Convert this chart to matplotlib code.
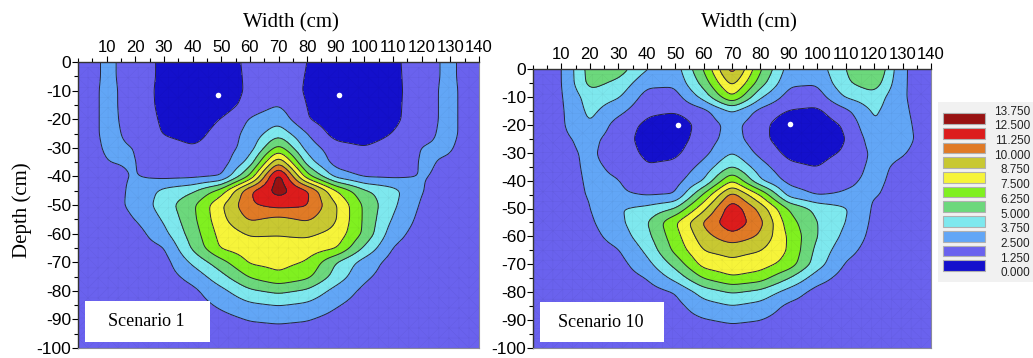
import numpy as np
import matplotlib
matplotlib.use("Agg")
import matplotlib.pyplot as plt
import matplotlib.tri as mtri
from matplotlib.patches import Rectangle
from matplotlib.ticker import FixedLocator, MultipleLocator

plt.rcParams['axes.unicode_minus'] = False

WIDTH_NODES = [0, 10, 20, 30, 40, 50, 60, 70, 80, 90, 100, 110, 120, 130, 140]
DEPTH_NODES = [0, -5, -10, -15, -20, -25, -30, -35, -40, -45, -50,
               -55, -60, -65, -70, -75, -80, -85, -90, -95, -100]

LEVELS = [0.0, 1.25, 2.5, 3.75, 5.0, 6.25, 7.5, 8.75, 10.0, 11.25, 12.5, 13.75]
LEVEL_COLORS = ['#1410cc', '#6a62ee', '#62a6f6', '#7ee8ee', '#6cd87c', '#80f020',
                '#f6f43a', '#c8c832', '#e07a26', '#dc1c1c', '#981212']
LEGEND_LABELS = ['13.750', '12.500', '11.250', '10.000', '8.750', '7.500',
                 '6.250', '5.000', '3.750', '2.500', '1.250', '0.000']

XTICKS = [10, 20, 30, 40, 50, 60, 70, 80, 90, 100, 110, 120, 130, 140]
YTICKS = [0, -10, -20, -30, -40, -50, -60, -70, -80, -90, -100]

# rows = depth nodes, columns = width nodes
SCENARIO_1 = [
    [1.8, 2.7, 2.1, 0.9, 0.5, 0.4, 1.65, 2.55, 1.2, 0.5, 0.5, 0.9, 2.15, 2.7, 1.8],
    [1.8, 2.7, 2.1, 0.9, 0.4, 0.3, 1.6, 2.1, 1.15, 0.4, 0.4, 0.85, 2.15, 2.7, 1.8],
    [1.8, 2.75, 2.1, 0.8, 0.3, 0.15, 1.6, 2.0, 1.1, 0.15, 0.3, 0.8, 2.15, 2.75, 1.8],
    [1.8, 2.75, 2.1, 0.85, 0.4, 0.5, 1.8, 2.5, 1.2, 0.3, 0.4, 0.85, 2.15, 2.75, 1.8],
    [1.8, 2.75, 2.15, 1.0, 0.5, 1.3, 2.6, 3.3, 1.3, 0.4, 0.4, 0.9, 2.15, 2.75, 1.8],
    [1.8, 2.75, 2.25, 1.15, 0.8, 1.7, 2.9, 4.6, 2.5, 0.7, 0.5, 1.3, 2.25, 2.75, 1.8],
    [1.8, 2.65, 2.5, 1.8, 1.35, 1.75, 3.1, 6.8, 3.2, 1.75, 1.35, 1.85, 2.55, 2.6, 1.8],
    [1.8, 2.5, 2.55, 1.9, 1.55, 1.8, 4.2, 10.0, 4.4, 1.9, 1.55, 1.9, 2.6, 2.4, 1.8],
    [1.8, 2.3, 2.55, 2.15, 2.2, 2.4, 6.4, 13.5, 6.7, 3.3, 2.3, 2.25, 2.55, 2.35, 1.8],
    [1.8, 2.1, 2.7, 4.1, 4.8, 6.8, 11.2, 13.1, 11.6, 7.6, 5.2, 4.2, 2.5, 2.1, 1.8],
    [1.8, 2.0, 2.8, 4.4, 6.0, 8.6, 11.1, 11.7, 11.4, 8.9, 6.0, 4.0, 2.3, 2.0, 1.8],
    [1.8, 1.9, 2.5, 3.9, 5.9, 8.4, 10.2, 9.6, 10.2, 8.9, 6.0, 3.6, 2.1, 1.9, 1.8],
    [1.8, 1.85, 1.95, 3.4, 5.6, 8.0, 8.9, 8.8, 9.0, 8.4, 6.0, 3.0, 1.9, 1.85, 1.8],
    [1.8, 1.85, 1.9, 2.4, 5.2, 7.7, 8.2, 8.4, 8.2, 7.7, 4.8, 2.4, 1.9, 1.85, 1.8],
    [1.8, 1.85, 1.9, 2.0, 4.0, 5.8, 7.7, 7.9, 7.4, 5.0, 3.2, 2.0, 1.9, 1.85, 1.8],
    [1.8, 1.85, 1.9, 1.95, 2.9, 4.6, 6.4, 7.3, 6.6, 4.5, 2.7, 1.95, 1.9, 1.85, 1.8],
    [1.8, 1.85, 1.9, 1.9, 2.2, 3.4, 4.8, 5.3, 4.8, 3.3, 2.2, 1.9, 1.9, 1.85, 1.8],
    [1.8, 1.85, 1.9, 1.9, 1.95, 2.7, 3.5, 3.8, 3.5, 2.6, 1.95, 1.9, 1.9, 1.85, 1.8],
    [1.8, 1.85, 1.9, 1.9, 1.9, 2.1, 2.55, 2.65, 2.55, 2.1, 1.9, 1.9, 1.9, 1.85, 1.8],
    [1.8, 1.85, 1.9, 1.9, 1.9, 1.95, 2.1, 2.2, 2.1, 1.95, 1.9, 1.9, 1.9, 1.85, 1.8],
    [1.8, 1.85, 1.9, 1.9, 1.9, 1.9, 1.95, 2.0, 1.95, 1.9, 1.9, 1.9, 1.9, 1.85, 1.8],
]

SCENARIO_10 = [
    [1.85, 2.35, 5.6, 5.7, 3.8, 3.1, 6.3, 10.8, 6.4, 3.2, 3.1, 5.0, 6.6, 2.6, 1.85],
    [1.85, 2.35, 5.5, 4.7, 2.8, 2.7, 5.5, 9.3, 5.6, 2.7, 2.6, 4.8, 5.8, 2.6, 1.85],
    [1.85, 2.35, 4.4, 3.9, 2.0, 2.0, 4.2, 7.6, 3.9, 2.0, 1.9, 3.9, 4.5, 2.6, 1.85],
    [1.85, 2.3, 4.1, 2.9, 1.5, 1.4, 2.1, 3.9, 2.1, 1.2, 1.0, 2.2, 4.0, 2.7, 1.85],
    [1.85, 2.3, 3.8, 1.9, 1.0, 0.4, 1.8, 2.9, 1.7, 0.3, 0.6, 1.4, 3.8, 2.8, 1.9],
    [1.85, 2.25, 2.9, 1.8, 0.8, 0.7, 1.8, 3.1, 1.6, 0.5, 0.5, 1.2, 3.2, 2.9, 1.9],
    [1.85, 2.2, 2.7, 1.9, 1.0, 1.0, 2.1, 3.8, 2.1, 0.9, 0.8, 1.4, 2.8, 2.6, 1.9],
    [1.85, 2.1, 2.7, 2.3, 1.3, 1.5, 2.9, 5.1, 3.0, 1.5, 1.2, 2.0, 2.75, 2.3, 1.9],
    [1.85, 2.05, 2.65, 2.55, 1.9, 2.0, 3.7, 7.6, 3.8, 2.1, 1.85, 2.35, 2.7, 2.2, 1.9],
    [1.85, 2.0, 2.6, 2.65, 2.35, 2.45, 6.4, 10.6, 7.4, 3.2, 2.35, 2.6, 2.6, 2.1, 1.9],
    [1.85, 1.95, 2.45, 3.7, 4.1, 5.0, 8.4, 12.2, 9.6, 6.1, 4.6, 3.9, 2.3, 2.0, 1.9],
    [1.85, 1.9, 2.3, 3.4, 4.9, 7.4, 10.2, 12.3, 10.4, 6.8, 5.0, 3.75, 2.2, 1.95, 1.9],
    [1.85, 1.9, 2.1, 3.0, 4.6, 7.0, 9.5, 10.9, 9.8, 7.3, 5.0, 3.4, 2.1, 1.95, 1.9],
    [1.85, 1.9, 1.95, 2.4, 4.0, 6.6, 8.8, 9.1, 8.8, 7.4, 4.6, 2.9, 1.95, 1.9, 1.9],
    [1.85, 1.9, 1.9, 2.05, 3.3, 5.4, 8.0, 8.5, 8.1, 7.0, 4.3, 2.35, 1.9, 1.9, 1.9],
    [1.85, 1.9, 1.9, 1.9, 2.5, 4.1, 6.3, 7.3, 6.8, 5.0, 3.0, 1.95, 1.9, 1.9, 1.9],
    [1.85, 1.9, 1.9, 1.9, 1.95, 2.5, 4.3, 5.1, 4.6, 3.2, 2.0, 1.9, 1.9, 1.9, 1.9],
    [1.85, 1.9, 1.9, 1.9, 1.9, 2.1, 3.2, 3.7, 3.3, 2.2, 1.9, 1.9, 1.9, 1.9, 1.9],
    [1.85, 1.9, 1.9, 1.9, 1.9, 1.95, 2.4, 2.65, 2.5, 1.95, 1.9, 1.9, 1.9, 1.9, 1.9],
    [1.85, 1.9, 1.9, 1.9, 1.9, 1.9, 2.0, 2.1, 2.0, 1.9, 1.9, 1.9, 1.9, 1.9, 1.9],
    [1.85, 1.9, 1.9, 1.9, 1.9, 1.9, 1.9, 1.9, 1.9, 1.9, 1.9, 1.9, 1.9, 1.9, 1.9],
]

# emitter positions (cm)
EMITTER_X_1 = [49, 91]
EMITTER_Y_1 = [-11.4, -11.5]
EMITTER_X_10 = [51, 90.4]
EMITTER_Y_10 = [-19.9, -19.6]

W, H = 1033, 358
SERIF = 'Liberation Serif'
SANS = 'Liberation Sans'


def smooth(a, sigma, axis):
    r = int(3 * sigma)
    k = np.exp(-0.5 * (np.arange(-r, r + 1) / sigma) ** 2)
    k /= k.sum()
    pad = [(0, 0), (0, 0)]
    pad[axis] = (r, r)
    ap = np.pad(a, pad, mode='edge')
    return np.apply_along_axis(lambda v: np.convolve(v, k, mode='valid'), axis, ap)


def fine_field(field):
    # bilinear resampling of the read-off grid onto a 0.5 cm grid, lightly smoothed
    z = np.array(field, dtype=float)[::-1]          # depth ascending
    depth_asc = np.array(DEPTH_NODES[::-1], dtype=float)
    xf = np.linspace(0, 140, 281)
    yf = np.linspace(-100, 0, 201)
    rows = np.array([np.interp(xf, WIDTH_NODES, r) for r in z])
    zf = np.array([np.interp(yf, depth_asc, c) for c in rows.T]).T
    zf = smooth(smooth(zf, 3.0, 1), 2.0, 0)
    return xf, yf, zf


def draw_panel(ax, field, ex, ey, label):
    xf, yf, zf = fine_field(field)
    ax.contourf(xf, yf, zf, levels=LEVELS, colors=LEVEL_COLORS, zorder=1)
    ax.contour(xf, yf, zf, levels=LEVELS[1:-1], colors='#25253a',
               linewidths=0.7, zorder=2)

    # faint finite-element mesh texture
    mx, my = np.meshgrid(np.arange(0, 141, 3.5), np.arange(-100, 1, 3.5))
    mesh = mtri.Triangulation(mx.ravel(), my.ravel())
    ax.triplot(mesh, color='#000000', lw=0.3, alpha=0.06, zorder=2)

    ax.plot(ex, ey, 'o', color='white', ms=4, mec='none', zorder=5)

    ax.set_xlim(0, 140)
    ax.set_ylim(-100, 0)
    ax.xaxis.tick_top()
    ax.xaxis.set_major_locator(FixedLocator(XTICKS))
    ax.xaxis.set_minor_locator(MultipleLocator(5))
    ax.yaxis.set_major_locator(FixedLocator(YTICKS))
    ax.yaxis.set_minor_locator(MultipleLocator(5))
    ax.tick_params(axis='x', which='both', direction='out', top=True, bottom=False,
                   labelsize=12, pad=1)
    ax.tick_params(axis='y', which='both', direction='out', left=True,
                   labelsize=12.5, pad=1)
    ax.tick_params(which='major', length=4, width=0.8)
    ax.tick_params(which='minor', length=3, width=0.8)
    for lab in ax.get_xticklabels() + ax.get_yticklabels():
        lab.set_family(SANS)
    for s in ('top', 'left'):
        ax.spines[s].set_color('#333333')
        ax.spines[s].set_linewidth(1.0)
    for s in ('right', 'bottom'):
        ax.spines[s].set_color('#8a8a9a')
        ax.spines[s].set_linewidth(0.8)

    ax.add_patch(Rectangle((0.018, 0.02), 0.31, 0.145, transform=ax.transAxes,
                           facecolor='white', edgecolor='none', zorder=6))
    ax.text(0.17, 0.092, label, transform=ax.transAxes, ha='center', va='center',
            family=SERIF, fontsize=13, zorder=7)


fig = plt.figure(figsize=(W / 100, H / 100), dpi=100)
ax1 = fig.add_axes([78 / W, 10 / H, 401 / W, 286 / H])
ax2 = fig.add_axes([533 / W, 10 / H, 398 / W, 279 / H])

draw_panel(ax1, SCENARIO_1, EMITTER_X_1, EMITTER_Y_1, 'Scenario 1')
draw_panel(ax2, SCENARIO_10, EMITTER_X_10, EMITTER_Y_10, 'Scenario 10')

fig.text(291 / W, 1 - 23 / H, 'Width (cm)', ha='center', va='center',
         family=SERIF, fontsize=15)
fig.text(749 / W, 1 - 23 / H, 'Width (cm)', ha='center', va='center',
         family=SERIF, fontsize=15)
fig.text(22 / W, 1 - 210 / H, 'Depth (cm)', ha='center', va='center',
         rotation=90, family=SERIF, fontsize=15)

# legend panel
fig.add_artist(Rectangle((938 / W, 1 - 282 / H), 95 / W, 180 / H,
                         transform=fig.transFigure, facecolor='#f1f1f1',
                         edgecolor='none'))
pitch = 14.69
for i, col in enumerate(LEVEL_COLORS[::-1]):
    top = 113.3 + pitch * i
    fig.add_artist(Rectangle((943 / W, 1 - (top + 10.7) / H), 42 / W, 10.7 / H,
                             transform=fig.transFigure, facecolor=col,
                             edgecolor='#b0b0b0', lw=0.8))
for i, lab in enumerate(LEGEND_LABELS):
    fig.text(1030 / W, 1 - (111.7 + pitch * i) / H, lab, ha='right', va='center',
             family=SANS, fontsize=8.5, color='#222222')

fig.savefig('out.png', dpi=100)
